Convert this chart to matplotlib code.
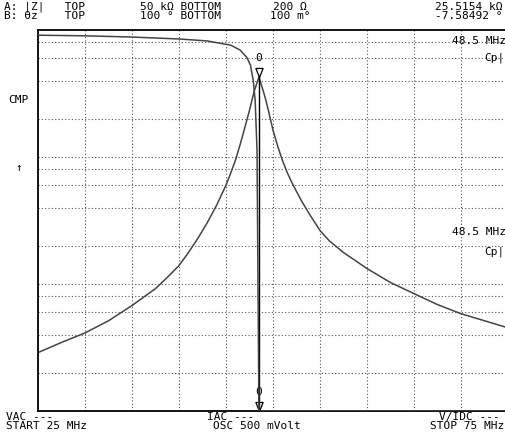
import numpy as np
import matplotlib
matplotlib.use('Agg')
import matplotlib.pyplot as plt
from matplotlib.ticker import NullLocator

# impedance analyser screen: |Z| (A) and theta-z (B) sweep 25 - 75 MHz
freq_z = [25, 27.5, 30, 32.5, 35, 37.5, 38.75, 40, 41, 42, 43, 44, 45, 45.5, 46, 46.5, 47, 47.5, 48,
          48.5, 49, 49.25, 49.5, 49.75, 50, 50.5, 51, 51.5, 52, 53, 54, 55, 56, 57.5, 60, 62.5, 65,
          67.5, 70, 72.5, 75]
z_mag = [173, 208, 247, 308, 406, 552, 675, 838, 1060, 1370, 1820, 2500, 3600, 4480, 5650, 7500,
         10200, 14000, 19800, 25515, 19440, 16700, 14040, 11700, 9756, 7300, 5652, 4550, 3780, 2730,
         2060, 1582, 1310, 1062, 794, 616, 504, 413, 350, 308, 271]

freq_p = [25, 30, 35, 40, 43, 45.5, 46.5, 47.2, 47.6, 47.9, 48.1, 48.3, 48.5, 50, 60, 75]
phase = [91, 90, 88, 85, 82, 76, 69.5, 61, 53, 40, 28, 11.3, -7.58, -30, -70, -80]

marker_f = 48.5
marker_z = 25515.4
z_lim = (60, 60000)      # 3 decades on screen
p_lim = (0.1, 100)       # 100 m deg .. 100 deg
f_lim = (25, 75)

mono = 'DejaVu Sans Mono'
plt.rcParams['font.family'] = mono

W, H = 506, 437
fig = plt.figure(figsize=(W / 100, H / 100), dpi=100)
ax = fig.add_axes([38 / W, (H - 411) / H, 470 / W, 381 / H])
ax.set_yscale('log')
ax.set_xlim(*f_lim)
ax.set_ylim(*z_lim)

# grid: every 5 MHz, and 2/4/6/8/10 x bottom per decade
ax.set_xticks(np.arange(30, 75, 5))
ygrid = [z_lim[0] * m * 10 ** k for k in range(3) for m in (2, 4, 6, 8, 10)][:-1]
ax.set_yticks(ygrid)
ax.yaxis.set_minor_locator(NullLocator())
ax.grid(True, ls=(0, (1, 2)), color='#555555', lw=0.8)
ax.tick_params(length=0, labelleft=False, labelbottom=False)
for s in ['top', 'left', 'bottom']:
    ax.spines[s].set_linewidth(1.3)
ax.spines['right'].set_visible(False)

ax.plot(freq_z, z_mag, color='#444444', lw=1.1)

ax2 = ax.twinx()
ax2.set_yscale('log')
ax2.set_ylim(*p_lim)
ax2.axis('off')
ax2.plot(freq_p, np.clip(phase, p_lim[0], p_lim[1]), color='#444444', lw=1.1)

# marker line + markers
ax.plot([marker_f, marker_f], [marker_z, z_lim[0]], color='black', lw=1.0)
tri = [(0, 0), (-0.4, 1), (0.4, 1), (0, 0)]
ax.plot([marker_f], [marker_z], marker=tri, ms=13, mfc='none', mec='black', mew=0.9)
ax.annotate('0', (marker_f, marker_z), xytext=(0, 14), textcoords='offset points',
            ha='center', va='center', fontsize=8)
ax.plot([marker_f], [z_lim[0]], marker=tri, ms=13, mfc='none', mec='black', mew=0.9, clip_on=False)
ax.annotate('0', (marker_f, z_lim[0]), xytext=(0, 14), textcoords='offset points',
            ha='center', va='center', fontsize=8)


def put(x, y, s, **kw):
    fig.text(x / W, 1 - y / H, s, va='center', ha=kw.pop('ha', 'left'), fontsize=8, **kw)


put(4, 7, 'A: |Z|   TOP')
put(140, 7, '50 kΩ BOTTOM')
put(273, 7, '200 Ω')
put(435, 7, '25.5154 kΩ')
put(4, 16, 'B: θz    TOP')
put(140, 16, '100 ° BOTTOM')
put(270, 16, '100 m°')
put(435, 16, '-7.58492 °')

put(6, 417, 'VAC ---')
put(6, 426, 'START 25 MHz')
put(207, 417, 'IAC ---')
put(213, 426, 'OSC 500 mVolt')
put(439, 417, 'V/IDC ---')
put(430, 426, 'STOP 75 MHz')

put(8, 100, 'CMP')
put(19, 168, '↑', ha='center')

put(452, 41, '48.5 MHz')
put(484, 58, 'Cp|')
put(452, 232, '48.5 MHz')
put(484, 252, 'Cp|')

fig.savefig('out.png', dpi=100)
